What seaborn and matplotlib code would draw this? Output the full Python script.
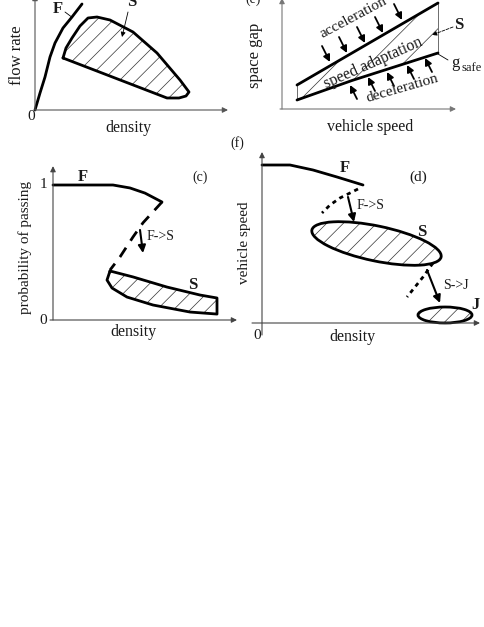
import matplotlib
matplotlib.use('Agg')
import matplotlib.pyplot as plt
from matplotlib.patches import Polygon, Ellipse
import seaborn as sns

sns.set_style('white')
plt.rcParams['font.family'] = ['Liberation Serif', 'DejaVu Serif']
plt.rcParams['hatch.linewidth'] = 0.5

# ---- panel (a): flow rate vs density (arbitrary units) ----
a_free_density = [0, 0.5, 1.0, 1.5, 2.0, 2.8, 3.7, 4.7]
a_free_flow = [0, 1.7, 3.3, 5.3, 6.7, 8.2, 9.3, 10.6]
a_sync_density = [2.8, 3.1, 3.7, 4.5, 5.3, 6.2, 7.5, 9.8, 12.2, 14.5, 15.4, 15.1, 14.4, 13.2, 2.8]
a_sync_flow = [5.2, 6.2, 7.2, 8.4, 9.2, 9.3, 9.0, 7.8, 5.7, 3.0, 1.8, 1.4, 1.2, 1.2, 5.2]

# ---- panel (e): space gap vs vehicle speed ----
e_speed = [1.5, 15.6]
e_gap_upper = [2.4, 10.6]
e_speed_safe = [1.5, 7.0, 15.6]
e_gap_safe = [0.9, 2.85, 5.6]
e_acc_speed = [4.8, 6.5, 8.3, 10.1, 12.0]
e_acc_gap = [4.7, 5.6, 6.6, 7.6, 8.9]
e_dec_speed = [6.8, 8.6, 10.5, 12.5, 14.3]
e_dec_gap = [2.4, 3.2, 3.7, 4.4, 5.1]

# ---- panel (c): probability of passing vs density ----
c_free_density = [0, 6.0, 7.7, 9.2, 10.9]
c_free_prob = [1.0, 1.0, 0.978, 0.94, 0.874]
c_trans_density = [10.9, 9.0, 8.0, 6.7, 5.7]
c_trans_prob = [0.874, 0.72, 0.615, 0.467, 0.37]
c_sync_density = [5.7, 8.0, 11.4, 14.7, 16.4, 16.4, 13.7, 10.0, 7.4, 5.9, 5.4, 5.7]
c_sync_prob = [0.363, 0.319, 0.244, 0.185, 0.163, 0.044, 0.059, 0.111, 0.170, 0.237, 0.296, 0.363]

# ---- panel (d): vehicle speed vs density ----
d_free_density = [0, 2.8, 5.1, 7.5, 10.1]
d_free_speed = [15.8, 15.8, 15.3, 14.6, 13.8]
d_fs_density = [9.6, 7.8, 6.8, 6.0]
d_fs_speed = [13.4, 12.5, 11.8, 11.0]
d_sj_density = [17.1, 16.1, 15.3, 14.5]
d_sj_speed = [6.0, 4.6, 3.6, 2.6]
d_sync = dict(density=11.45, speed=7.95, width=13.2, height=3.5, angle=-11.8)
d_jam = dict(density=18.3, speed=0.8, width=5.4, height=1.6, angle=0)

W, H = 485, 627
fig = plt.figure(figsize=(W / 100, H / 100), dpi=100)
TXT = '#1a1a1a'


def panel(ox, oy, xlim, ylim, xs=10, ys=10):
    left = ox + xlim[0] * xs
    right = ox + xlim[1] * xs
    top = oy - ylim[1] * ys
    bottom = oy - ylim[0] * ys
    ax = fig.add_axes([left / W, 1 - bottom / H, (right - left) / W, (bottom - top) / H])
    ax.set_xlim(xlim)
    ax.set_ylim(ylim)
    ax.axis('off')
    return ax


def arrow(ax, tail, tip, lw=1.0, color='k', ms=9, ls='-'):
    ax.annotate('', xy=tip, xytext=tail,
                arrowprops=dict(arrowstyle='-|>', lw=lw, color=color,
                                mutation_scale=ms, shrinkA=0, shrinkB=0, ls=ls))


def curve(ax, x, y, **kw):
    sns.lineplot(x=x, y=y, sort=False, estimator=None, ax=ax, color='k', **kw)


def hatched(ax, x, y, hatch='//'):
    ax.add_patch(Polygon(list(zip(x, y)), closed=True, facecolor='none',
                         edgecolor='#333333', lw=0, hatch=hatch))


# ================= (a) =================
ax = panel(35, 110, (-3.5, 20.5), (-2.5, 11.7))
arrow(ax, (0, 0), (19.3, 0), lw=0.8, color='#555555', ms=8)
arrow(ax, (0, 0), (0, 11.5), lw=0.8, color='#555555', ms=8)
curve(ax, a_free_density, a_free_flow, lw=2)
hatched(ax, a_sync_density, a_sync_flow)
curve(ax, a_sync_density, a_sync_flow, lw=2)
ax.text(2.3, 10.1, 'F', fontsize=12, fontweight='bold', ha='center', va='center', color=TXT)
ax.plot([3.0, 3.6], [9.8, 9.35], color='k', lw=0.6)
ax.text(9.7, 10.8, 'S', fontsize=12, fontweight='bold', ha='center', va='center', color=TXT)
arrow(ax, (9.3, 9.8), (8.7, 7.3), lw=0.6, ms=7)
ax.text(-0.4, -0.7, '0', fontsize=11, ha='center', va='center', color=TXT)
ax.text(9.3, -1.8, 'density', fontsize=11.5, ha='center', va='center', color=TXT)
ax.text(-1.8, 5.5, 'flow rate', fontsize=12, rotation=90, ha='center', va='center', color=TXT)

# ================= (e) =================
ax = panel(282, 109, (-3.5, 20.3), (-2.5, 11.3))
arrow(ax, (-0.2, 0), (17.4, 0), lw=0.8, color='#777777', ms=8)
arrow(ax, (0, 0), (0, 11.1), lw=0.8, color='#777777', ms=8)
band_x = e_speed + e_speed_safe[::-1]
band_y = e_gap_upper + e_gap_safe[::-1]
hatched(ax, band_x, band_y, hatch='/')
ax.plot([e_speed[0], e_speed[0]], [e_gap_safe[0], e_gap_upper[0]], color='#555555', lw=0.6)
ax.plot([e_speed[-1], e_speed[-1]], [e_gap_safe[-1], e_gap_upper[-1]], color='#555555', lw=0.6)
curve(ax, e_speed, e_gap_upper, lw=2)
curve(ax, e_speed_safe, e_gap_safe, lw=2)
for sx, gy in zip(e_acc_speed, e_acc_gap):
    arrow(ax, (sx - 0.8, gy + 1.6), (sx, gy), lw=1.3, ms=10)
for sx, gy in zip(e_dec_speed, e_dec_gap):
    arrow(ax, (sx + 0.7, gy - 1.4), (sx, gy), lw=1.3, ms=10)
ax.text(7.2, 9.1, 'acceleration', fontsize=11, rotation=28, ha='center', va='center', color=TXT)
ax.text(9.1, 4.6, 'speed adaptation', fontsize=11.5, rotation=24, ha='center', va='center', color=TXT)
ax.text(12.0, 2.1, 'deceleration', fontsize=11, rotation=16, ha='center', va='center', color=TXT)
ax.text(17.7, 8.4, 'S', fontsize=12, fontweight='bold', ha='center', va='center', color=TXT)
arrow(ax, (17.1, 8.2), (15.0, 7.4), lw=0.6, ms=7, ls='--')
ax.plot([16.6, 15.6], [4.9, 5.5], color='k', lw=0.6)
ax.text(17.3, 4.6, 'g', fontsize=12, ha='center', va='center', color=TXT)
ax.text(18.0, 4.1, 'safe', fontsize=9, ha='left', va='center', color=TXT)
ax.text(-2.9, 11.0, '(e)', fontsize=10, ha='center', va='center', color=TXT)
ax.text(-2.7, 5.4, 'space gap', fontsize=12, rotation=90, ha='center', va='center', color=TXT)
ax.text(8.8, -1.8, 'vehicle speed', fontsize=11.5, ha='center', va='center', color=TXT)

# ================= (c) =================
ax = panel(53, 320, (-5.3, 19.0), (-0.16, 1.2), ys=135)
arrow(ax, (-0.3, 0), (18.4, 0), lw=0.8, color='#444444', ms=8)
arrow(ax, (0, 0), (0, 1.14), lw=0.8, color='#444444', ms=8)
curve(ax, c_free_density, c_free_prob, lw=2)
curve(ax, c_trans_density, c_trans_prob, lw=2, ls=(0, (4, 3)))
hatched(ax, c_sync_density, c_sync_prob)
curve(ax, c_sync_density, c_sync_prob, lw=2)
arrow(ax, (8.7, 0.667), (9.0, 0.496), lw=1.5, ms=11)
ax.text(9.4, 0.615, 'F->S', fontsize=10, ha='left', va='center', color=TXT)
ax.text(3.0, 1.06, 'F', fontsize=12, fontweight='bold', ha='center', va='center', color=TXT)
ax.text(14.0, 0.26, 'S', fontsize=12, fontweight='bold', ha='center', va='center', color=TXT)
ax.text(14.7, 1.06, '(c)', fontsize=10, ha='center', va='center', color=TXT)
ax.text(-0.6, 1.0, '1', fontsize=11, ha='right', va='center', color=TXT)
ax.text(-0.6, 0.0, '0', fontsize=11, ha='right', va='center', color=TXT)
ax.text(8.0, -0.09, 'density', fontsize=11.5, ha='center', va='center', color=TXT)
ax.text(-2.8, 0.54, 'probability of passing', fontsize=11, rotation=90,
        ha='center', va='center', color=TXT)

# ================= (d) =================
ax = panel(262, 323, (-3.2, 22.2), (-1.6, 18.4))
arrow(ax, (-1.0, 0), (21.8, 0), lw=0.8, color='#444444', ms=8)
arrow(ax, (0, -1.2), (0, 17.1), lw=0.8, color='#444444', ms=8)
curve(ax, d_free_density, d_free_speed, lw=2)
curve(ax, d_fs_density, d_fs_speed, lw=2, ls=(0, (1.5, 1.5)))
curve(ax, d_sj_density, d_sj_speed, lw=2, ls=(0, (1.5, 1.5)))
for e in (d_sync, d_jam):
    ax.add_patch(Ellipse((e['density'], e['speed']), e['width'], e['height'], angle=e['angle'],
                         facecolor='none', edgecolor='#333333', lw=0, hatch='//'))
    ax.add_patch(Ellipse((e['density'], e['speed']), e['width'], e['height'], angle=e['angle'],
                         facecolor='none', edgecolor='k', lw=2))
arrow(ax, (8.6, 12.6), (9.2, 10.1), lw=1.5, ms=11)
ax.text(9.5, 11.8, 'F->S', fontsize=10, ha='left', va='center', color=TXT)
arrow(ax, (16.5, 5.3), (17.8, 2.0), lw=1.5, ms=11)
ax.text(18.1, 3.8, 'S->J', fontsize=10, ha='left', va='center', color=TXT)
ax.text(8.3, 15.5, 'F', fontsize=12, fontweight='bold', ha='center', va='center', color=TXT)
ax.text(16.0, 9.1, 'S', fontsize=12, fontweight='bold', ha='center', va='center', color=TXT)
ax.text(21.3, 1.8, 'J', fontsize=12, fontweight='bold', ha='center', va='center', color=TXT)
ax.text(15.6, 14.6, '(d)', fontsize=11, ha='center', va='center', color=TXT)
ax.text(-2.5, 18.0, '(f)', fontsize=10, ha='center', va='center', color=TXT)
ax.text(-0.5, -1.2, '0', fontsize=11, ha='center', va='center', color=TXT)
ax.text(9.0, -1.4, 'density', fontsize=11.5, ha='center', va='center', color=TXT)
ax.text(-1.7, 8.0, 'vehicle speed', fontsize=11, rotation=90, ha='center', va='center', color=TXT)

fig.savefig('out.png', dpi=100)
